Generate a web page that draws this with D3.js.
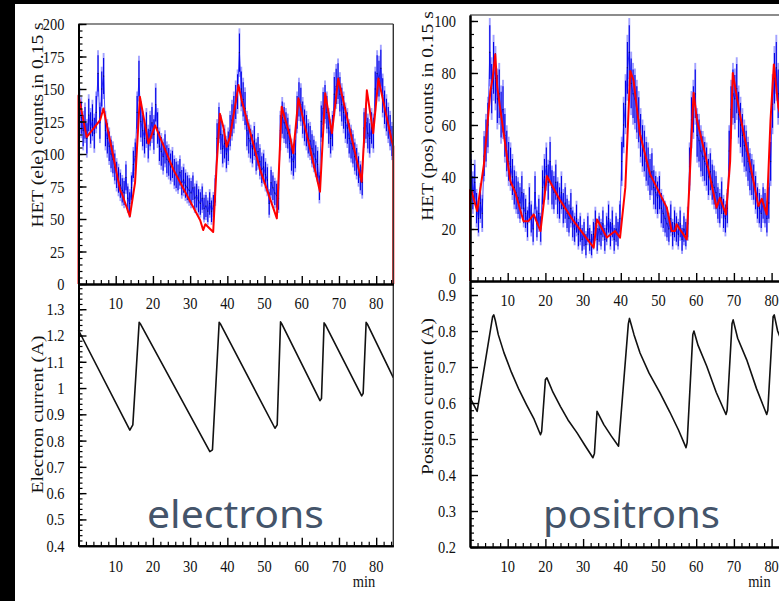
<!DOCTYPE html>
<html>
<head>
<meta charset="utf-8">
<script src="https://cdn.jsdelivr.net/npm/d3@7"></script>
<style>
html, body { margin: 0; padding: 0; background: #000; }
svg { display: block; }
</style>
</head>
<body>
<script>
// ---- data ----
var binWidth = 0.5; // min per histogram bin

// HET electron counts in 0.15 s, one value per 0.5 min bin
var eleCounts = [
  135, 128, 118, 124, 112, 130, 120, 126, 116, 132,
  162, 124, 150, 160, 118, 112, 106, 100, 96, 90,
  84, 80, 76, 72, 70, 82, 66, 62, 74, 92,
  98, 132, 158, 125, 118, 112, 120, 108, 118, 124,
  115, 138, 120, 106, 102, 98, 104, 96, 94, 90,
  92, 86, 84, 82, 86, 78, 80, 76, 74, 72,
  70, 74, 66, 68, 64, 62, 66, 58, 60, 56,
  62, 56, 60, 72, 112, 124, 115, 104, 108, 100,
  106, 118, 126, 132, 140, 148, 178, 150, 142, 135,
  118, 112, 108, 104, 110, 98, 102, 94, 88, 90,
  84, 80, 62, 78, 74, 70, 68, 66, 118, 128,
  124, 120, 116, 108, 98, 94, 100, 132, 142, 138,
  128, 122, 118, 112, 110, 104, 100, 96, 92, 74,
  125, 135, 140, 132, 120, 112, 118, 146, 152, 156,
  146, 138, 132, 124, 120, 112, 108, 104, 98, 94,
  88, 82, 78, 120, 124, 116, 112, 120, 116, 150,
  162, 158, 166, 145, 136, 130, 124, 118, 110, 104
];

// HET positron counts in 0.15 s
var posCounts = [
  40, 34, 38, 28, 24, 30, 26, 48, 54, 60,
  88, 74, 82, 78, 70, 72, 64, 66, 56, 50,
  46, 44, 40, 36, 34, 32, 30, 34, 28, 26,
  22, 30, 24, 20, 34, 22, 26, 20, 36, 40,
  44, 38, 46, 36, 34, 38, 32, 30, 34, 28,
  30, 26, 24, 28, 22, 20, 24, 18, 20, 16,
  18, 14, 20, 16, 14, 18, 22, 16, 20, 18,
  22, 16, 20, 24, 18, 22, 16, 20, 18, 24,
  46, 60, 68, 82, 88, 76, 72, 70, 66, 62,
  56, 52, 50, 46, 44, 40, 42, 36, 34, 32,
  34, 28, 26, 24, 22, 20, 24, 18, 22, 20,
  18, 22, 16, 20, 18, 22, 44, 62, 66, 72,
  56, 54, 50, 48, 46, 44, 40, 42, 38, 36,
  34, 30, 28, 32, 26, 24, 28, 50, 66, 72,
  70, 74, 64, 60, 56, 52, 50, 46, 42, 40,
  38, 34, 30, 28, 26, 30, 28, 24, 30, 46,
  68, 78, 82, 72, 66, 62, 60, 58, 54, 52
];

// red model curves [min, counts]
var eleModel = [
  [0, 0], [0, 145], [2.2, 113], [5.8, 126], [6.7, 135], [8.5, 110], [11.2, 72], [11.6, 70],
  [13.8, 52], [15.2, 78], [16.5, 144], [18.8, 108], [20.6, 122], [25.5, 88], [32.7, 49],
  [33.5, 41.5], [34.1, 46], [36.2, 40], [37.1, 90], [38, 131], [38.9, 121], [39.8, 105.6],
  [40.7, 113], [43, 153], [43.9, 141], [48.8, 88], [53.3, 50.5], [54.6, 136.4], [56.9, 113],
  [57.7, 100.5], [59.1, 142.8], [64.9, 71], [66.3, 146.7], [68.1, 116], [69.8, 158],
  [76.1, 78.7], [77.5, 149], [79.2, 116], [80.6, 158], [84.2, 110], [84.6, 106], [84.6, 0]
];

var posModel = [
  [0, 0], [0, 35], [0.4, 34.6], [1.9, 26.9], [3.7, 44.9], [5.4, 73], [6.0, 78], [6.7, 87.2],
  [7.2, 75], [8.1, 65.4], [10.7, 38.5], [12.0, 34], [14.2, 23], [15.5, 23], [16.9, 25.6],
  [18.7, 19.2], [20.4, 40.4], [24.0, 30.8], [27.5, 23], [32.8, 12.8], [33.7, 23.7],
  [36.3, 16.7], [38.5, 19.2], [39.8, 16.7], [41.2, 35.9], [42.5, 80.8], [43.4, 77],
  [45.1, 56.4], [47.8, 41], [52.2, 28.2], [53.5, 19.2], [54.4, 19.2], [54.8, 21.8],
  [57.5, 16], [58.4, 43.6], [59.3, 72.4], [60.2, 62], [62.8, 46], [65.4, 28.2], [66.3, 32],
  [67.9, 25.6], [69.0, 46], [69.7, 80], [71.6, 64], [74.3, 44.9], [76.5, 28.8], [77.4, 31.6],
  [78.7, 25.6], [79.7, 61.5], [80.6, 83.3], [81.8, 66.7], [84.6, 52], [84.6, 0]
];

// beam currents [min, A]
var eleCurrent = [
  [0, 1.22], [13.8, 0.84], [14.6, 0.86], [16.3, 1.25], [16.6, 1.245], [35.3, 0.758], [36.0, 0.765],
  [37.8, 1.25], [38.1, 1.245], [52.8, 0.847], [53.4, 0.86], [54.3, 1.252], [54.6, 1.245],
  [64.9, 0.952], [65.3, 0.96], [66.0, 1.248], [66.3, 1.242], [76.1, 0.97], [76.5, 0.98],
  [77.3, 1.25], [77.6, 1.244], [84.6, 1.04]
];

var posCurrent = [
  [0, 0.615], [1.9, 0.577], [6.0, 0.84], [6.3, 0.845], [6.7, 0.83], [7.5, 0.79], [9.0, 0.74],
  [11.0, 0.685], [13.0, 0.637], [15.0, 0.595], [17.0, 0.555], [18.7, 0.512], [19.0, 0.52],
  [20.0, 0.665], [20.4, 0.67], [22.0, 0.63], [24.0, 0.59], [26.0, 0.553], [28.4, 0.517],
  [30.5, 0.482], [32.6, 0.448], [33.0, 0.46], [33.7, 0.577], [35.5, 0.54], [37.5, 0.508],
  [39.4, 0.48], [42.0, 0.82], [42.3, 0.835], [42.7, 0.82], [43.5, 0.79], [45.1, 0.739],
  [47.5, 0.683], [50.4, 0.628], [53.0, 0.575], [55.3, 0.525], [57.3, 0.476], [57.6, 0.49],
  [59.1, 0.79], [59.4, 0.8], [60.5, 0.76], [62.8, 0.702], [65.3, 0.63], [67.9, 0.568],
  [68.2, 0.58], [69.5, 0.82], [69.8, 0.831], [71.0, 0.78], [73.4, 0.72], [76.0, 0.64],
  [78.7, 0.568], [79.0, 0.58], [80.4, 0.84], [80.7, 0.845], [81.6, 0.8], [84.6, 0.72]
];

var xMajor = [10, 20, 30, 40, 50, 60, 70, 80];
var eleCountTicks = [0, 25, 50, 75, 100, 125, 150, 175, 200];
var eleCurrTicks = [0.4, 0.5, 0.6, 0.7, 0.8, 0.9, 1, 1.1, 1.2, 1.3];
var posCountTicks = [0, 20, 40, 60, 80, 100];
var posCurrTicks = [0.2, 0.3, 0.4, 0.5, 0.6, 0.7, 0.8, 0.9];

// ---- drawing ----
var W = 779, H = 601;
var serif = '"Liberation Serif", "Times New Roman", serif';
var SQ = 0.85; // the scanned figure is squeezed horizontally

var svg = d3.select('body').append('svg')
  .attr('width', W).attr('height', H);

svg.append('rect').attr('width', W).attr('height', H).attr('fill', '#000');
svg.append('rect').attr('x', 15).attr('y', 4).attr('width', W - 15).attr('height', H - 4).attr('fill', '#fff');

function label(g, x, y, txt, size, anchor) {
  g.append('text')
    .attr('transform', 'translate(' + x + ',' + y + ') scale(' + SQ + ',1)')
    .attr('text-anchor', anchor)
    .attr('font-family', serif)
    .attr('font-size', size)
    .attr('fill', '#111')
    .text(txt);
}

function vlabel(g, x, y, txt, size) {
  g.append('text')
    .attr('transform', 'translate(' + x + ',' + y + ') scale(' + SQ + ',1) rotate(-90)')
    .attr('text-anchor', 'middle')
    .attr('font-family', serif)
    .attr('font-size', size)
    .attr('fill', '#111')
    .text(txt);
}

function fmt(v) { return String(+v.toFixed(1)); }

function drawPanel(p) {
  var g = svg.append('g');
  var x = d3.scaleLinear().domain([0, 84.6]).range(p.xr);
  var yc = d3.scaleLinear().domain(p.countDom).range([p.yMid, p.yTop]);
  var yi = d3.scaleLinear().domain(p.currDom).range([p.yBot, p.yMid]);
  var bw = x(binWidth) - x(0);

  var clipId = 'clip' + p.id;
  svg.append('clipPath').attr('id', clipId).append('rect')
    .attr('x', p.xr[0]).attr('y', p.yTop).attr('width', p.xr[1] - p.xr[0]).attr('height', p.yMid - p.yTop);

  // counts histogram with error bars
  var hist = g.append('g').attr('clip-path', 'url(#' + clipId + ')');
  var bins = p.counts.map(function (v, i) { return { t: (i + 0.5) * binWidth, v: v, e: Math.sqrt(v) }; });
  hist.selectAll('rect').data(bins).enter().append('rect')
    .attr('x', function (d) { return x(d.t) - bw / 2; })
    .attr('width', bw)
    .attr('y', function (d) { return yc(d.v + d.e * 1.4); })
    .attr('height', function (d) { return yc(d.v - d.e * 1.4) - yc(d.v + d.e * 1.4); })
    .attr('fill', '#6464ff').attr('fill-opacity', 0.6);
  hist.append('path').datum(bins)
    .attr('d', d3.line().x(function (d) { return x(d.t); }).y(function (d) { return yc(d.v); }))
    .attr('fill', 'none').attr('stroke', '#2020ff').attr('stroke-width', 0.8);
  hist.selectAll('line.core').data(bins).enter().append('line')
    .attr('x1', function (d) { return x(d.t); }).attr('x2', function (d) { return x(d.t); })
    .attr('y1', function (d) { return yc(d.v - d.e * 1.1); }).attr('y2', function (d) { return yc(d.v + d.e * 1.1); })
    .attr('stroke', '#0000e6').attr('stroke-width', 1.1);
  hist.selectAll('circle').data(bins).enter().append('circle')
    .attr('cx', function (d) { return x(d.t); }).attr('cy', function (d) { return yc(d.v); })
    .attr('r', 0.7).attr('fill', '#000').attr('fill-opacity', 0.5);

  // red model
  g.append('path').datum(p.model)
    .attr('d', d3.line().x(function (d) { return x(d[0]); }).y(function (d) { return yc(d[1]); }))
    .attr('fill', 'none').attr('stroke', '#ff0000').attr('stroke-width', 2).attr('stroke-linejoin', 'round');

  // current
  g.append('path').datum(p.current)
    .attr('d', d3.line().x(function (d) { return x(d[0]); }).y(function (d) { return yi(d[1]); }))
    .attr('fill', 'none').attr('stroke', '#111').attr('stroke-width', 1.6).attr('stroke-linejoin', 'round');

  // frame (top / right)
  g.append('line').attr('x1', p.xr[0]).attr('x2', p.xr[1]).attr('y1', p.yTop).attr('y2', p.yTop)
    .attr('stroke', '#666').attr('stroke-width', 1.6);
  g.append('line').attr('x1', p.xr[1]).attr('x2', p.xr[1]).attr('y1', p.yTop).attr('y2', p.yBot)
    .attr('stroke', '#333').attr('stroke-width', 1.4);

  // axes: ticks inside, labels drawn separately
  var minorX = d3.range(2, 85, 2).filter(function (v) { return v % 10 !== 0; });
  [p.yMid, p.yBot].forEach(function (yy) {
    var ax = g.append('g').attr('transform', 'translate(0,' + yy + ')');
    ax.call(d3.axisBottom(x).tickValues(minorX).tickSize(-4).tickSizeOuter(0).tickFormat(''));
    ax.selectAll('.tick line').attr('stroke-width', 1.2);
    var ax2 = g.append('g').attr('transform', 'translate(0,' + yy + ')');
    ax2.call(d3.axisBottom(x).tickValues(xMajor).tickSize(-8).tickSizeOuter(0).tickFormat(''));
    ax2.selectAll('.tick line').attr('stroke-width', 1.4);
    ax.select('.domain').attr('stroke-width', 2);
    ax2.select('.domain').attr('stroke-width', 2);
  });

  function yAxis(scale, majors, minorStep, shiftZero) {
    var dom = scale.domain();
    var minors = d3.range(Math.ceil(dom[0] / minorStep - 1e-6), Math.floor(dom[1] / minorStep + 1e-6) + 1)
      .map(function (k) { return k * minorStep; });
    var a = g.append('g').attr('transform', 'translate(' + p.xr[0] + ',0)');
    a.call(d3.axisLeft(scale).tickValues(minors).tickSize(-4).tickSizeOuter(0).tickFormat(''));
    a.selectAll('.tick line').attr('stroke-width', 1.2);
    a.select('.domain').attr('stroke-width', 2);
    var b = g.append('g').attr('transform', 'translate(' + p.xr[0] + ',0)');
    b.call(d3.axisLeft(scale).tickValues(majors).tickSize(-8).tickSizeOuter(0).tickFormat(''));
    b.selectAll('.tick line').attr('stroke-width', 1.4);
    b.select('.domain').attr('stroke-width', 2);
    majors.forEach(function (v) {
      var dy = (shiftZero && v === 0) ? 3 : 6;
      label(g, p.xr[0] - 14, scale(v) + dy, fmt(v), 17, 'end');
    });
  }
  yAxis(yc, p.countTicks, p.countMinor, p.shiftZero);
  yAxis(yi, p.currTicks, p.currMinor, false);

  xMajor.forEach(function (v) {
    label(g, x(v), p.yMid + 24.5, String(v), 17, 'middle');
    label(g, x(v), 572, String(v), 17, 'middle');
  });
  label(g, x(80) - 1, 587, 'min', 17, 'end');

  vlabel(g, p.titleX, p.countTitleY, p.countTitle, 19.5);
  vlabel(g, p.titleX, p.currTitleY, p.currTitle, 19.5);

  g.append('text')
    .attr('x', p.tagX).attr('y', 528)
    .attr('font-family', '"Noto Sans", "Open Sans", sans-serif')
    .attr('font-size', 38)
    .attr('fill', '#44546a')
    .attr('textLength', 177).attr('lengthAdjust', 'spacingAndGlyphs')
    .text(p.tag);
}

drawPanel({
  id: 'L', xr: [78.5, 393.3], yTop: 24, yMid: 284, yBot: 545.7,
  counts: eleCounts, model: eleModel, current: eleCurrent,
  countDom: [0, 200], countTicks: eleCountTicks, countMinor: 5, shiftZero: false,
  currDom: [0.4, 1.396], currTicks: eleCurrTicks, currMinor: 0.02,
  titleX: 43, countTitleY: 125, currTitleY: 414.5,
  countTitle: 'HET (ele) counts in 0.15 s', currTitle: 'Electron current (A)',
  tag: 'electrons', tagX: 147
});

drawPanel({
  id: 'R', xr: [470, 470 + 84.6 * 3.77], yTop: 15, yMid: 281, yBot: 547,
  counts: posCounts, model: posModel, current: posCurrent,
  countDom: [0, 102.3], countTicks: posCountTicks, countMinor: 5, shiftZero: true,
  currDom: [0.2, 0.939], currTicks: posCurrTicks, currMinor: 0.02,
  titleX: 433, countTitleY: 116, currTitleY: 396.5,
  countTitle: 'HET (pos) counts in 0.15 s', currTitle: 'Positron current (A)',
  tag: 'positrons', tagX: 543
});
</script>
</body>
</html>
